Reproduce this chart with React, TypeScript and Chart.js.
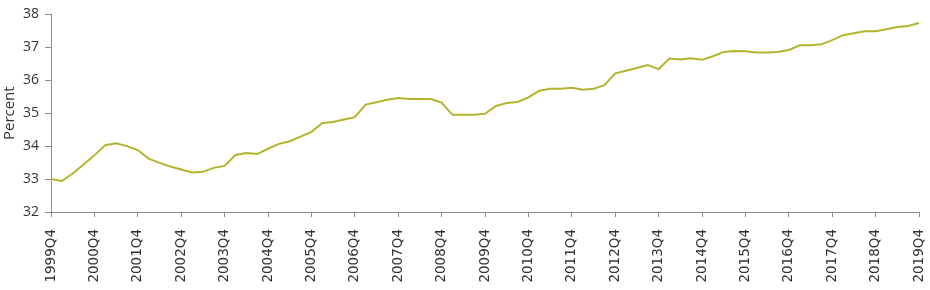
import React, { useEffect, useRef } from 'react';
import { Chart, registerables } from 'chart.js';

Chart.register(...registerables);

// Quarterly categories 1999Q4 .. 2019Q4
const startYear = 1999;
const endYear = 2019;
const quarters: string[] = ['1999Q4'];
for (let y = startYear + 1; y <= endYear; y++) {
  for (let q = 1; q <= 4; q++) quarters.push(`${y}Q${q}`);
}

const shareValues: number[] = [
  33.0, 32.94, 33.17, 33.44, 33.72, 34.03, 34.09, 34.0, 33.88, 33.62,
  33.49, 33.38, 33.29, 33.2, 33.22, 33.34, 33.4, 33.73, 33.79, 33.76,
  33.92, 34.07, 34.15, 34.29, 34.43, 34.7, 34.73, 34.81, 34.88, 35.26,
  35.33, 35.41, 35.46, 35.43, 35.43, 35.43, 35.32, 34.95, 34.95, 34.95,
  34.98, 35.22, 35.31, 35.34, 35.48, 35.68, 35.74, 35.74, 35.77, 35.71,
  35.74, 35.85, 36.21, 36.29, 36.37, 36.46, 36.34, 36.66, 36.63, 36.67,
  36.62, 36.73, 36.86, 36.89, 36.88, 36.84, 36.84, 36.86, 36.92, 37.06,
  37.06, 37.09, 37.22, 37.37, 37.43, 37.49, 37.49, 37.55, 37.62, 37.65,
  37.74,
];

const yMin = 32;
const yMax = 38;
const yTitle = 'Percent';

export default function App() {
  const ref = useRef<HTMLCanvasElement>(null);
  useEffect(() => {
    document.body.style.margin = '0';
    const axisGrey = '#8c8c8c';
    const chart = new Chart(ref.current!, {
      type: 'line',
      data: {
        labels: quarters,
        datasets: [
          {
            data: shareValues,
            borderColor: '#b4b42c',
            borderWidth: 2,
            pointRadius: 0,
            tension: 0,
            fill: false,
          },
        ],
      },
      options: {
        animation: false,
        responsive: false,
        layout: { padding: { top: 11, right: 0, left: 0, bottom: 0 } },
        plugins: { legend: { display: false }, tooltip: { enabled: false } },
        scales: {
          x: {
            type: 'category',
            offset: false,
            afterFit: (s: any) => {
              s.height = 78;
              s.paddingLeft = 0;
              s.paddingRight = 11;
            },
            border: { display: true, color: axisGrey, width: 1 },
            grid: {
              drawOnChartArea: false,
              drawTicks: true,
              tickLength: 5,
              color: (c: any) => (c.index % 4 === 0 ? axisGrey : 'rgba(0,0,0,0)'),
            },
            ticks: {
              autoSkip: false,
              maxRotation: 90,
              minRotation: 90,
              padding: 12,
              color: '#333',
              font: { family: 'DejaVu Sans', size: 13.5 },
              callback: (_v: any, i: number) => (i % 4 === 0 ? quarters[i] : ''),
            },
          },
          y: {
            min: yMin,
            max: yMax,
            afterFit: (s: any) => {
              s.width = 51;
            },
            border: { display: true, color: axisGrey, width: 1 },
            grid: { drawOnChartArea: false, drawTicks: true, tickLength: 6, color: axisGrey },
            ticks: {
              stepSize: 1,
              padding: 6,
              color: '#333',
              font: { family: 'Open Sans', size: 14 },
            },
            title: {
              display: true,
              text: yTitle,
              color: '#333',
              padding: { top: 1, bottom: 0 },
              font: { family: 'Open Sans', size: 15 },
            },
          },
        },
      },
    });
    return () => chart.destroy();
  }, []);
  return (
    <div style={{ width: 930, height: 290 }}>
      <canvas ref={ref} width={930} height={290} />
    </div>
  );
}
